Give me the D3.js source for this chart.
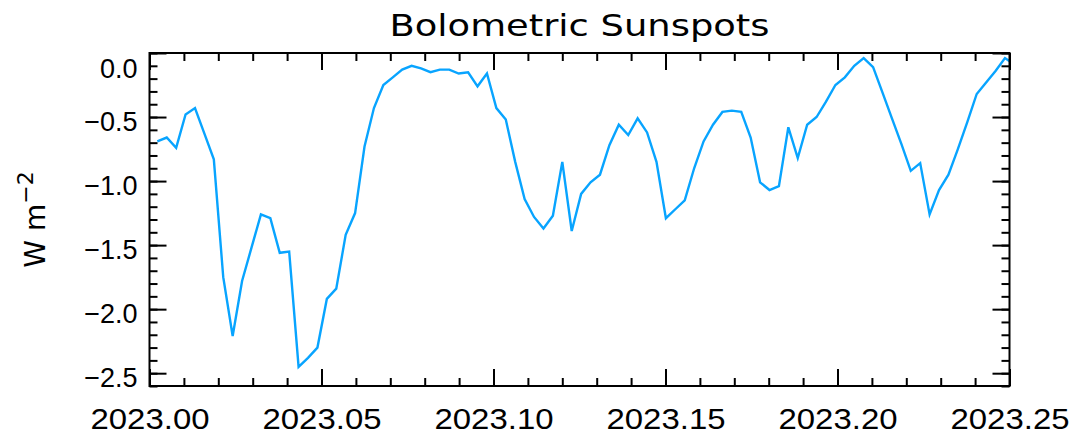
<!DOCTYPE html>
<html>
<head>
<meta charset="utf-8">
<script src="https://cdn.jsdelivr.net/npm/d3@7"></script>
<style>
  html, body { margin: 0; padding: 0; background: #fff; }
  svg { display: block; font-family: "DejaVu Sans", sans-serif; }
</style>
</head>
<body>
<svg id="chart" width="1078" height="438"></svg>
<script>
// daily bolometric sunspot values, W m^-2, starting just after 2023.00
const firstDay = 0.83;           // days after 2023.00 of first sample
const daysPerYear = 365.25;
const values = [
  -0.69, -0.66, -0.74, -0.48, -0.43, -0.63, -0.83, -1.75, -2.21, -1.78,
  -1.52, -1.26, -1.29, -1.56, -1.55, -2.45, -2.38, -2.30, -1.92, -1.84,
  -1.42, -1.25, -0.73, -0.43, -0.25, -0.19, -0.13, -0.10, -0.12, -0.15,
  -0.13, -0.13, -0.16, -0.15, -0.26, -0.16, -0.43, -0.52, -0.85, -1.14,
  -1.28, -1.37, -1.27, -0.85, -1.39, -1.10, -1.01, -0.95, -0.72, -0.56,
  -0.64, -0.51, -0.62, -0.85, -1.29, -1.22, -1.15, -0.90, -0.69, -0.56,
  -0.46, -0.45, -0.46, -0.66, -1.01, -1.07, -1.04, -0.58, -0.82, -0.56,
  -0.50, -0.38, -0.25, -0.19, -0.10, -0.04, -0.11, -0.31, -0.51, -0.71,
  -0.92, -0.86, -1.26, -1.07, -0.95, -0.75, -0.54, -0.32, -0.23, -0.14,
  -0.04, -0.09
];
const xTicks = [2023.00, 2023.05, 2023.10, 2023.15, 2023.20, 2023.25];
const yTicks = [0.0, -0.5, -1.0, -1.5, -2.0, -2.5];

const svg = d3.select('#chart');
const margin = { top: 53, right: 68.5, bottom: 52, left: 149.5 };
const width = 1078 - margin.left - margin.right;
const height = 438 - margin.top - margin.bottom;

const x = d3.scaleLinear().domain([2023.0, 2023.25]).range([0, width]);
const y = d3.scaleLinear().domain([-2.6, 0.0]).range([height, 0]);

const g = svg.append('g').attr('transform', `translate(${margin.left},${margin.top})`);

g.append('clipPath').attr('id', 'clip')
  .append('rect').attr('width', width).attr('height', height);

const data = values.map((v, i) => ({ t: 2023 + (firstDay + i) / daysPerYear, v }));

const line = d3.line().x(d => x(d.t)).y(d => y(d.v));
g.append('path')
  .datum(data)
  .attr('clip-path', 'url(#clip)')
  .attr('fill', 'none')
  .attr('stroke', '#08a4ff')
  .attr('stroke-width', 2.4)
  .attr('stroke-linejoin', 'miter')
  .attr('d', line);

const xMinor = d3.range(0, 26).map(i => 2023 + i * 0.01);
const yMinor = d3.range(0, 27).map(i => -i * 0.1);

function styleAxis(sel) {
  sel.select('.domain').remove();
  sel.selectAll('.tick line').attr('stroke', '#000').attr('stroke-width', 2);
}

// minor ticks on all four sides
g.append('g').attr('transform', `translate(0,${height})`)
  .call(d3.axisBottom(x).tickValues(xMinor).tickSize(-8).tickFormat(''))
  .call(styleAxis);
g.append('g')
  .call(d3.axisTop(x).tickValues(xMinor).tickSize(-8).tickFormat(''))
  .call(styleAxis);
g.append('g')
  .call(d3.axisLeft(y).tickValues(yMinor).tickSize(-8).tickFormat(''))
  .call(styleAxis);
g.append('g').attr('transform', `translate(${width},0)`)
  .call(d3.axisRight(y).tickValues(yMinor).tickSize(-8).tickFormat(''))
  .call(styleAxis);

// major ticks
const xAxis = g.append('g').attr('transform', `translate(0,${height})`)
  .call(d3.axisBottom(x).tickValues(xTicks).tickSize(-17).tickPadding(22).tickFormat(d3.format('.2f')))
  .call(styleAxis);
xAxis.selectAll('text')
  .attr('fill', '#000')
  .style('font-size', '29px')
  .attr('textLength', 119)
  .attr('lengthAdjust', 'spacingAndGlyphs');

g.append('g')
  .call(d3.axisTop(x).tickValues(xTicks).tickSize(-17).tickFormat(''))
  .call(styleAxis);

const yAxis = g.append('g')
  .call(d3.axisLeft(y).tickValues(yTicks).tickSize(-17).tickPadding(12).tickFormat(d3.format('.1f')))
  .call(styleAxis);
yAxis.selectAll('text')
  .attr('fill', '#000')
  .attr('dy', d => d === 0 ? '0.92em' : '0.48em')
  .style('font-size', '27px');

g.append('g').attr('transform', `translate(${width},0)`)
  .call(d3.axisRight(y).tickValues(yTicks).tickSize(-17).tickFormat(''))
  .call(styleAxis);

// frame
g.append('rect')
  .attr('width', width).attr('height', height)
  .attr('fill', 'none').attr('stroke', '#000').attr('stroke-width', 2);

// title
svg.append('text')
  .attr('x', margin.left + width / 2)
  .attr('y', 36)
  .attr('text-anchor', 'middle')
  .style('font-size', '30px')
  .attr('textLength', 380)
  .attr('lengthAdjust', 'spacingAndGlyphs')
  .text('Bolometric Sunspots');

// y-axis label
const yl = svg.append('text')
  .attr('transform', `translate(45,${margin.top + height / 2}) rotate(-90)`)
  .attr('text-anchor', 'middle')
  .style('font-size', '28px');
yl.append('tspan').text('W m');
yl.append('tspan').attr('dy', -12).style('font-size', '22px').text('\u22122');
</script>
</body>
</html>
